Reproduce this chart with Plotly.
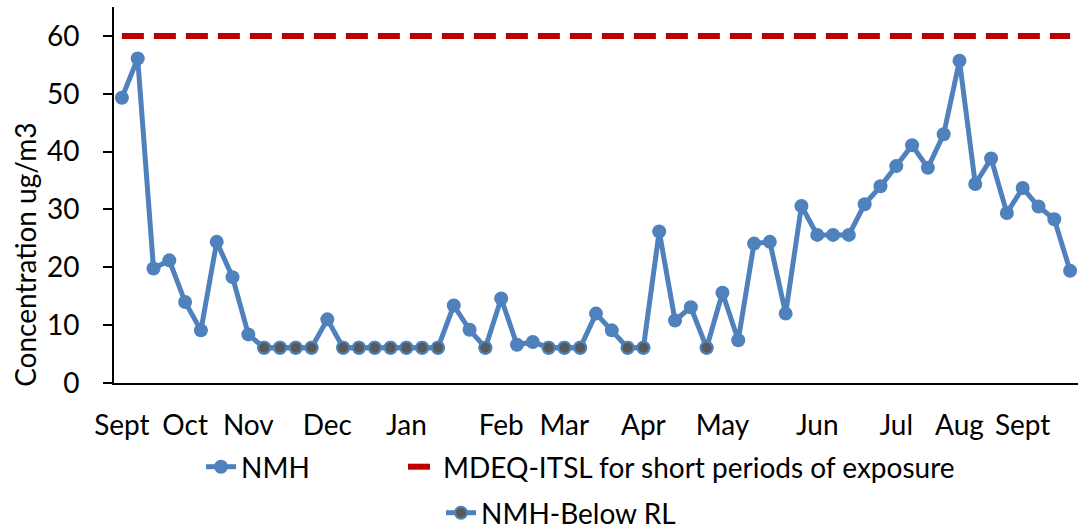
import plotly.graph_objects as go

# Weekly NMH concentrations (ug/m3), Sept through the following Sept
nmh_values = [
    49.3, 56.1, 19.8, 21.2, 14.0, 9.1, 24.4, 18.3, 8.4, 6.1,
    6.1, 6.1, 6.1, 11.0, 6.1, 6.1, 6.1, 6.1, 6.1, 6.1,
    6.1, 13.4, 9.2, 6.1, 14.6, 6.6, 7.1, 6.1, 6.1, 6.1,
    12.0, 9.1, 6.1, 6.1, 26.2, 10.8, 13.1, 6.1, 15.6, 7.4,
    24.1, 24.4, 12.0, 30.6, 25.6, 25.6, 25.6, 30.9, 34.0, 37.5,
    41.1, 37.2, 43.0, 55.7, 34.4, 38.8, 29.4, 33.7, 30.5, 28.3,
    19.4,
]
# Samples reported below the reporting limit
below_rl_index = [9, 10, 11, 12, 14, 15, 16, 17, 18, 19, 20, 23, 27, 28, 29, 32, 33, 37]
# Short-term exposure screening level
itsl_limit = 60

month_positions = [0, 4, 8, 13, 18, 24, 28, 33, 38, 44, 49, 53, 57]
month_labels = ["Sept", "Oct", "Nov", "Dec", "Jan", "Feb", "Mar",
                "Apr", "May", "Jun", "Jul", "Aug", "Sept"]
y_ticks = [0, 10, 20, 30, 40, 50, 60]

sample_x = list(range(len(nmh_values)))
below_rl_values = [v if i in below_rl_index else None for i, v in enumerate(nmh_values)]

BLUE = "#4F81BD"
RED = "#C00000"
GRAY = "#595959"
FONT = "Lato"
FS = 28

fig = go.Figure()

fig.add_trace(go.Scatter(
    x=sample_x, y=nmh_values, name="NMH", mode="lines+markers",
    line=dict(color=BLUE, width=5),
    marker=dict(color=BLUE, size=14, line=dict(width=0)),
    legend="legend",
))
fig.add_trace(go.Scatter(
    x=sample_x, y=[itsl_limit] * len(sample_x),
    name="MDEQ-ITSL for short periods of exposure", mode="lines",
    line=dict(color=RED, width=6, dash="22px,10px"),
    legend="legend2",
))
fig.add_trace(go.Scatter(
    x=sample_x, y=below_rl_values, name="NMH-Below RL", mode="lines+markers",
    line=dict(color=BLUE, width=5),
    marker=dict(color=GRAY, size=12, line=dict(color=BLUE, width=2)),
    connectgaps=False,
    legend="legend3",
))

fig.add_annotation(
    text="Concentration ug/m3", textangle=-90,
    xref="paper", yref="paper", x=-0.0923, y=0.341,
    xanchor="center", yanchor="middle", showarrow=False,
    font=dict(family=FONT, size=FS, color="#000000"),
)

legend_style = dict(
    orientation="h", xref="container", yref="container",
    xanchor="left", yanchor="middle",
    font=dict(family=FONT, size=FS, color="#000000"),
    bgcolor="rgba(0,0,0,0)", borderwidth=0,
)

fig.update_layout(
    width=1078, height=531, autosize=False,
    margin=dict(l=114, r=0, t=7, b=148),
    paper_bgcolor="white", plot_bgcolor="white",
    font=dict(family=FONT, size=FS, color="#000000"),
    showlegend=True,
    xaxis=dict(
        range=[-0.5, len(nmh_values) - 0.5],
        tickvals=month_positions, ticktext=month_labels,
        ticks="", showgrid=False, zeroline=False,
        showline=True, linecolor="#000000", linewidth=2,
        ticklabelstandoff=16,
    ),
    yaxis=dict(
        range=[0, 65], tickvals=y_ticks,
        ticks="outside", ticklen=9, tickwidth=2, tickcolor="#000000",
        showgrid=False, zeroline=False,
        showline=True, linecolor="#000000", linewidth=2,
        ticklabelstandoff=18,
    ),
    legend=dict(legend_style, x=201 / 1078, y=(531 - 467) / 531),
    legend2=dict(legend_style, x=403 / 1078, y=(531 - 467) / 531),
    legend3=dict(legend_style, x=441 / 1078, y=(531 - 513) / 531),
)

fig.write_html("out.html")
